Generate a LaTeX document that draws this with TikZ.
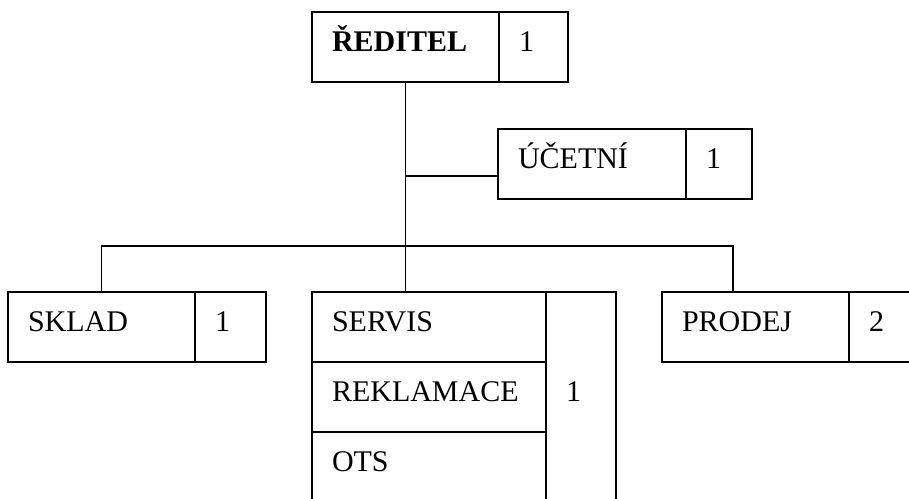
\documentclass[tikz,border=0pt]{standalone}
\usepackage{fontspec}
\setmainfont{Liberation Serif}
\begin{document}
\begin{tikzpicture}[x=1pt,y=-1pt,line width=1.2pt,
	cell/.style={draw,rectangle,anchor=north west,inner xsep=20pt,inner ysep=0pt,outer sep=0pt,
		align=left,text height=39pt,text depth=31pt,font=\fontsize{30}{36}\selectfont}]
		\useasboundingbox (0,0) rectangle (909,498);
		\clip (0,0) rectangle (909,498);
		
		%top
		\node[cell,text width=147pt] (reditel) at (312,12){\textbf{ŘEDITEL}};
		\node[cell,text width=29pt] (reditelN) at (reditel.north east){1};
		\node[cell,text width=148pt] (ucetni) at (498,129){ÚČETNÍ};
		\node[cell,text width=26pt] (ucetniN) at (ucetni.north east){1};
		
		%departments
		\node[cell,text width=147pt] (sklad) at (8,292){SKLAD};
		\node[cell,text width=31pt] (skladN) at (sklad.north east){1};
		\node[cell,text width=194pt] (servis) at (312,292){SERVIS};
		\node[cell,text width=194pt] (reklamace) at (servis.south west){REKLAMACE};
		\node[cell,text width=194pt] (ots) at (reklamace.south west){OTS};
		\node[cell,text width=30pt,text height=109pt,text depth=110pt] (servisN) at (servis.north east){1};
		\node[cell,text width=147pt] (prodej) at (662,292){PRODEJ};
		\node[cell,text width=29pt] (prodejN) at (prodej.north east){2};
		
		%lines
		\coordinate (ujoin) at ([yshift=-12pt]ucetni.west);
		\coordinate (bus) at (406,246);
		\draw (reditel.south) -- (reditel.south |- servis.north);
		\draw (ujoin) -- (reditel.south |- ujoin);
		\draw (sklad.north) |- (bus) -| ([xshift=-22.5pt]prodej.north);
\end{tikzpicture}
\end{document}
